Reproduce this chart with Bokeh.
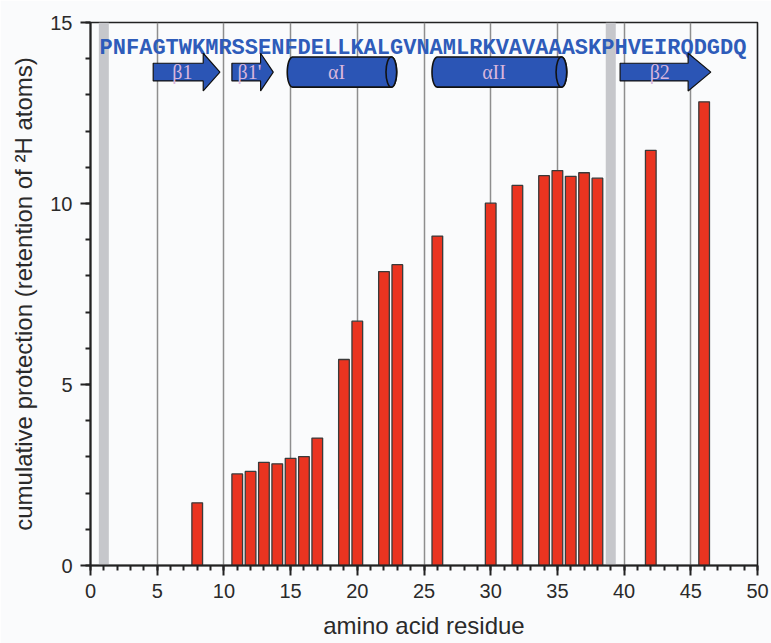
import numpy as np
from bokeh.plotting import figure
from bokeh.models import FixedTicker, Range1d
from bokeh.core.properties import value
from bokeh.embed import file_html
from bokeh.resources import INLINE

# ---------------- data ----------------
sequence = "PNFAGTWKMRSSENFDELLKALGVNAMLRKVAVAAASKPHVEIRQDGDQ"

residues = [8, 11, 12, 13, 14, 15, 16, 17, 19, 20, 22, 23, 26, 30, 32,
            34, 35, 36, 37, 38, 42, 46]
protection = [1.73, 2.53, 2.60, 2.85, 2.81, 2.96, 3.01, 3.52, 5.69, 6.75,
              8.12, 8.31, 9.10, 10.01, 10.50, 10.77, 10.91, 10.75, 10.85,
              10.70, 11.47, 12.81]

shaded_residues = [1, 39]

ss_labels = ["\u03b21", "\u03b21'", "\u03b1I", "\u03b1II", "\u03b22"]
ss_types = ["strand", "strand", "helix", "helix", "strand"]
ss_start = [4.7, 10.6, 14.75, 25.6, 39.7]
ss_end = [9.7, 13.7, 22.95, 35.7, 46.5]

x_ticks = [0, 5, 10, 15, 20, 25, 30, 35, 40, 45, 50]
y_ticks = [0, 5, 10, 15]

x_title = "amino acid residue"
y_title = "cumulative protection (retention of \u00b2H atoms)"

# ---------------- styles ----------------
BG = "#FAFBFC"
BLUE = "#2B55B5"
SEQ_BLUE = "#2E5CBA"
RED = "#EA3420"
LABEL_COL = "#D8B6DC"
FONT = "Liberation Sans"
TXT = "#2a2a2a"

XMIN, XMAX, YMIN, YMAX = 0, 50, 0, 15

p = figure(width=771, height=643, output_backend="svg", toolbar_location=None,
           x_range=Range1d(XMIN, XMAX), y_range=Range1d(YMIN, YMAX),
           min_border_left=90, min_border_right=14, min_border_top=22,
           min_border_bottom=78)
p.background_fill_color = BG
p.border_fill_color = BG
p.outline_line_color = "#222222"
p.outline_line_width = 1.6

# grid
p.ygrid.visible = False
p.xgrid.ticker = FixedTicker(ticks=[t for t in x_ticks if XMIN < t < XMAX])
p.xgrid.grid_line_color = "#8E8E8E"
p.xgrid.grid_line_width = 1.5

# axes
p.xaxis.ticker = FixedTicker(ticks=x_ticks, minor_ticks=list(range(0, 51)))
p.yaxis.ticker = FixedTicker(ticks=y_ticks, minor_ticks=list(range(0, 16)))
for ax in (p.xaxis[0], p.yaxis[0]):
    ax.axis_line_width = 2
    ax.axis_line_color = "#222222"
    ax.major_tick_line_width = 2
    ax.minor_tick_line_width = 2
    ax.major_tick_line_color = "#222222"
    ax.minor_tick_line_color = "#222222"
    ax.major_tick_out = 10
    ax.major_tick_in = 0
    ax.minor_tick_out = 5
    ax.minor_tick_in = 0
    ax.major_label_text_font = FONT
    ax.major_label_text_font_size = "20px"
    ax.major_label_text_color = TXT
    ax.axis_label_text_font = FONT
    ax.axis_label_text_font_size = "24px"
    ax.axis_label_text_font_style = "normal"
    ax.axis_label_text_color = TXT
p.xaxis.axis_label = x_title
p.yaxis.axis_label = y_title
p.xaxis.major_label_standoff = 8
p.xaxis.axis_label_standoff = 11
p.yaxis.major_label_standoff = 8
p.yaxis.axis_label_standoff = 10

# shaded residues
p.vbar(x=shaded_residues, width=0.75, bottom=YMIN, top=YMAX,
       fill_color="#C6C7CB", line_color=None)

# bars
p.vbar(x=residues, width=0.8, bottom=0, top=protection,
       fill_color=RED, line_color="#3A3A3A", line_width=1.3)

# sequence
p.text(x=[0.68], y=[14.29], text=[sequence],
       text_font=value("Liberation Mono"), text_font_style="bold",
       text_font_size="22px", text_color=SEQ_BLUE,
       text_align="left", text_baseline="alphabetic")

# secondary structure
yc = 13.63
body_h = 0.245
head_h = 0.52
cyl_h = 0.415
cap_w = 0.8

arrow_xs, arrow_ys = [], []
cyl_xs, cyl_ys = [], []
cap_x, cap_y = [], []
lab_x, lab_y = [], []
for lab, typ, s, e in zip(ss_labels, ss_types, ss_start, ss_end):
    if typ == "strand":
        head = max(0.25 * (e - s), 0.95)
        hs = e - head
        arrow_xs.append([s, hs, hs, e, hs, hs, s])
        arrow_ys.append([yc + body_h, yc + body_h, yc + head_h, yc,
                         yc - head_h, yc - body_h, yc - body_h])
        lab_x.append((s + e - 0.5 * head) / 2)
    else:
        t1 = np.linspace(np.pi / 2, 3 * np.pi / 2, 30)
        t2 = np.linspace(-np.pi / 2, np.pi / 2, 30)
        lx = (s + cap_w / 2) + (cap_w / 2) * np.cos(t1)
        ly = yc + cyl_h * np.sin(t1)
        rx = (e - cap_w / 2) + (cap_w / 2) * np.cos(t2)
        ry = yc + cyl_h * np.sin(t2)
        cyl_xs.append(list(lx) + list(rx))
        cyl_ys.append(list(ly) + list(ry))
        cap_x.append(e - cap_w / 2)
        cap_y.append(yc)
        lab_x.append((s + e - cap_w) / 2)
    lab_y.append(yc)

p.patches(xs=arrow_xs, ys=arrow_ys, fill_color=BLUE, line_color="#111111",
          line_width=1.2)
p.patches(xs=cyl_xs, ys=cyl_ys, fill_color=BLUE, line_color="#111111",
          line_width=1.6)
p.ellipse(x=cap_x, y=cap_y, width=cap_w, height=2 * cyl_h,
          fill_color=BLUE, line_color="#111111", line_width=1.6)
p.text(x=lab_x, y=lab_y, text=ss_labels,
       text_font=value("Liberation Serif"), text_font_size="20px",
       text_color=LABEL_COL, text_align="center", text_baseline="middle")

open("out.html", "w").write(file_html(p, INLINE))
